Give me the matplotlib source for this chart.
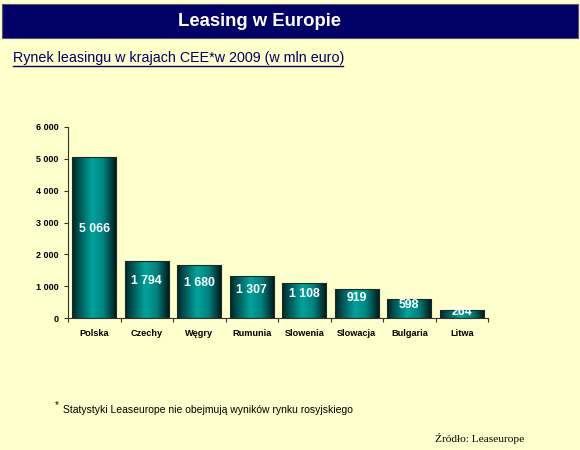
import matplotlib
matplotlib.use("Agg")
import matplotlib.pyplot as plt
import numpy as np
from matplotlib.colors import LinearSegmentedColormap
from matplotlib.patches import Rectangle

categories = ["Polska", "Czechy", "Węgry", "Rumunia", "Slowenia", "Slowacja", "Bulgaria", "Litwa"]
values = [5066, 1794, 1680, 1307, 1108, 919, 598, 264]
value_labels = ["5 066", "1 794", "1 680", "1 307", "1 108", "919", "598", "264"]
yticks = [0, 1000, 2000, 3000, 4000, 5000, 6000]
ytick_labels = ["0", "1 000", "2 000", "3 000", "4 000", "5 000", "6 000"]

bg = "#FFFFCC"
navy = "#000066"

fig = plt.figure(figsize=(5.8, 4.5), dpi=100)
fig.patch.set_facecolor(bg)

# title bar
fig.patches.append(Rectangle((2/580, 1-38/450), 576/580, 34/450, transform=fig.transFigure,
                             facecolor=navy, edgecolor="#555577", lw=0.8, zorder=0))
fig.text(260/580, 1-21/450, "Leasing w Europie", color="white", fontsize=13.3, fontweight="bold",
         ha="center", va="center", family="Liberation Sans")
fig.text(13/580, 1-58/450, "Rynek leasingu w krajach CEE*w 2009 (w mln euro)", color=navy,
         fontsize=10.25, ha="left", va="center", family="Liberation Sans")
fig.lines.append(plt.Line2D([13/580, 343/580], [1-65.5/450, 1-65.5/450], transform=fig.transFigure,
                            color=navy, lw=1))

ax = fig.add_axes([68/580, 1-318/450, 420/580, 191/450])
ax.set_facecolor(bg)
x = np.arange(len(categories))

cmap = LinearSegmentedColormap.from_list("teal", [(0, "#002222"), (0.15, "#005050"), (0.45, "#00A39C"),
                                                   (0.7, "#008380"), (0.9, "#003838"), (1, "#001515")])
grad = np.linspace(0, 1, 256).reshape(1, -1)
w = 0.84
bars = ax.bar(x, values, width=w, color="none", edgecolor="#1a2a2a", lw=0.8, zorder=3)
for b in bars:
    x0 = b.get_x()
    im = ax.imshow(grad, cmap=cmap, aspect="auto", extent=[x0, x0 + b.get_width(), 0, b.get_height()],
                   zorder=2)
    im.set_clip_path(b)
ax.set_xlim(-0.5, len(categories)-0.5)
ax.set_ylim(0, 6000)

for xi, v, lab in zip(x, values, value_labels):
    ly = min(v/2 + 250, v*0.68)
    ax.text(xi, ly, lab, ha="center", va="center",
            color="white", fontsize=8.8, fontweight="bold", family="Liberation Sans", zorder=4)

for s in ["top", "right"]:
    ax.spines[s].set_visible(False)
for s in ["left", "bottom"]:
    ax.spines[s].set_color("#333333")
    ax.spines[s].set_linewidth(0.8)

ax.set_yticks(yticks)
ax.set_yticklabels(ytick_labels, fontsize=6.5, fontweight="bold", family="Liberation Sans")
ax.set_xticks(np.arange(len(categories)+1) - 0.5, minor=False)
ax.set_xticklabels([])
ax.set_xticks(x, minor=True)
ax.set_xticklabels(categories, minor=True, fontsize=6.6, fontweight="bold", family="Liberation Sans")
ax.tick_params(axis="x", which="minor", length=0, pad=8)
ax.tick_params(axis="x", which="major", length=3, direction="out", color="#333333")
ax.tick_params(axis="y", length=3, direction="out", color="#333333", pad=4)

fig.text(55/580, 1-405/450, "*", fontsize=7, ha="left", va="center", family="Liberation Sans")
fig.text(63/580, 1-410/450, "Statystyki Leaseurope nie obejmują wyników rynku rosyjskiego", fontsize=7.5,
         ha="left", va="center", family="Liberation Sans")
fig.text(435/580, 1-438/450, "Źródło: Leaseurope", fontsize=8.2, ha="left", va="center",
         family="Liberation Serif")

fig.savefig("out.png", dpi=100, facecolor=bg)
